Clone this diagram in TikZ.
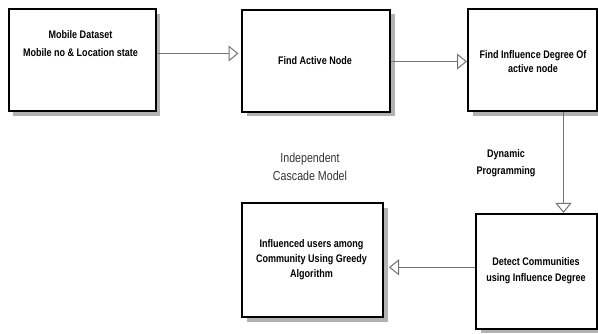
\documentclass[tikz,border=0pt]{standalone}
\usepackage{fontspec}
\setmainfont{Liberation Sans}
\newfontfamily\narrowfont[FakeStretch=0.82]{Liberation Sans}
\usetikzlibrary{arrows.meta,shadows,calc}
\tikzset{
  box/.style={draw=black, line width=2pt, fill=white, anchor=north west, inner sep=0pt,
    drop shadow={shadow xshift=4.5pt, shadow yshift=-4.5pt, fill=black!30, opacity=1}},
  boxtext/.style={align=center, font=\narrowfont\bfseries\fontsize{11}{15}\selectfont, inner sep=0pt},
  flow/.style={draw=black!55, line width=1.4pt,
    -{Triangle[open, length=10pt, width=16pt, line width=1pt, fill=white]}},
  plain/.style={align=center, inner sep=0pt}
}
\begin{document}
\begin{tikzpicture}[x=1pt,y=-1pt]
\useasboundingbox (0,0) rectangle (598,334);
\node[box, minimum width=147pt, minimum height=102pt] (b1) at (7.5,8.5) {};
\node[box, minimum width=148pt, minimum height=102pt] (b2) at (241,9) {};
\node[box, minimum width=129pt, minimum height=102pt] (b3) at (467,8.5) {};
\node[box, minimum width=141pt, minimum height=114pt] (b5) at (241,202.5) {};
\node[box, minimum width=121pt, minimum height=115pt] (b4) at (475,213) {};
\node[boxtext, font=\narrowfont\bfseries\fontsize{11}{18}\selectfont] (t1) at (80.5,44) {Mobile Dataset\\Mobile no \& Location state};
\node[boxtext] (t2) at (315,61) {Find Active Node};
\node[boxtext, font=\narrowfont\bfseries\fontsize{11}{13.5}\selectfont] (t3) at (533,61.5) {Find Influence Degree Of\\active node};
\node[boxtext, font=\narrowfont\bfseries\fontsize{11}{16}\selectfont] (t4) at (536,271) {Detect Communities\\using Influence Degree};
\node[boxtext] (t5) at (311.5,260) {Influenced users among\\Community Using Greedy\\Algorithm};
\node[plain, text=black!80, font=\narrowfont\fontsize{13}{18}\selectfont] (icm) at (310,167) {Independent\\Cascade Model};
\node[plain, font=\narrowfont\bfseries\fontsize{11}{16.7}\selectfont] (dp) at (506,163.5) {Dynamic\\Programming};
\coordinate (xv) at (563.5,0);
\coordinate (ya) at (0,53.5);
\coordinate (yb) at (0,61.5);
\coordinate (yh) at (0,267.3);
\draw[flow, shorten >=2.5pt] (b1.east |- ya) -- (b2.west |- ya);
\draw[flow] (b2.east |- yb) -- (b3.west |- yb);
\draw[flow] (b3.south -| xv) -- (b4.north -| xv);
\draw[flow, shorten >=5pt] (b4.west |- yh) -- (b5.east |- yh);
\end{tikzpicture}
\end{document}
